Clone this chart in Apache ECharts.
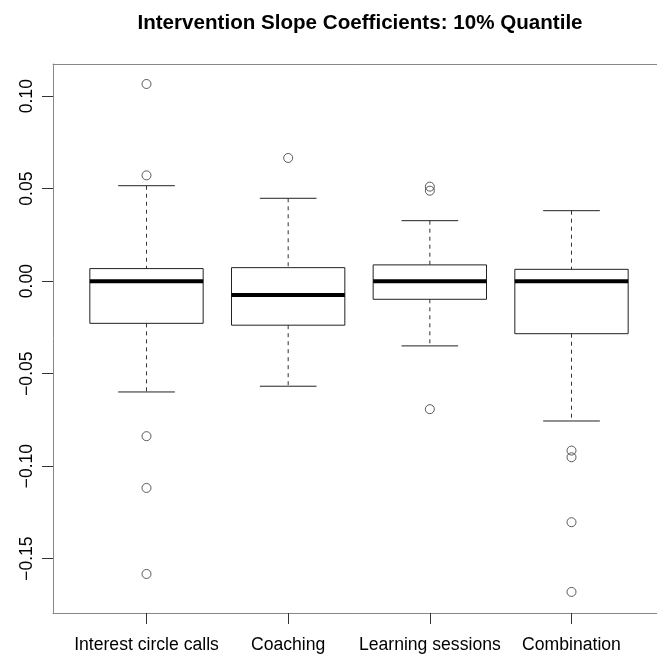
<!DOCTYPE html>
<html>
<head>
<meta charset="utf-8">
<script src="https://cdn.jsdelivr.net/npm/echarts@6/dist/echarts.min.js"></script>
<style>
html,body{margin:0;padding:0;background:#fff;}
#chart{width:657px;height:655px;}
</style>
</head>
<body>
<div id="chart"></div>
<script>
// ---- data ----
const titleText = 'Intervention Slope Coefficients: 10% Quantile';
const categories = ['Interest circle calls', 'Coaching', 'Learning sessions', 'Combination'];
const whiskerLow  = [-0.0599, -0.0568, -0.0350, -0.0756];
const q1          = [-0.0228, -0.0238, -0.0098, -0.0284];
const median      = [ 0.0000, -0.0075,  0.0000,  0.0000];
const q3          = [ 0.0068,  0.0073,  0.0088,  0.0064];
const whiskerHigh = [ 0.0516,  0.0448,  0.0327,  0.0381];
const outliers = [
  [0.1066, 0.0572, -0.0838, -0.1118, -0.1583],
  [0.0666],
  [0.0511, 0.0489, -0.0692],
  [-0.0916, -0.0952, -0.1303, -0.1680]
];
const yTicks = [-0.15, -0.10, -0.05, 0.00, 0.05, 0.10];
const xTicks = [1, 2, 3, 4];

// ---- build ----
const boxData = categories.map((c, i) => [i + 1, whiskerLow[i], q1[i], median[i], q3[i], whiskerHigh[i]]);
const outlierData = [];
outliers.forEach((arr, i) => arr.forEach(v => outlierData.push([i + 1, v])));

const HALF = 0.4;
function renderBox(params, api) {
  const x = api.value(0);
  const lo = api.value(1), a = api.value(2), m = api.value(3), b = api.value(4), hi = api.value(5);
  const pL = api.coord([x - HALF, b]);
  const pR = api.coord([x + HALF, a]);
  const cx = api.coord([x, m])[0];
  const sL = api.coord([x - HALF / 2, 0])[0];
  const sR = api.coord([x + HALF / 2, 0])[0];
  const yLo = api.coord([x, lo])[1], yA = api.coord([x, a])[1], yM = api.coord([x, m])[1];
  const yB = api.coord([x, b])[1], yHi = api.coord([x, hi])[1];
  const solid = {stroke: '#222', lineWidth: 1, fill: null};
  const dashed = {stroke: '#333', lineWidth: 1, lineDash: [4, 4]};
  return {
    type: 'group',
    children: [
      {type: 'line', shape: {x1: cx, y1: yHi, x2: cx, y2: yB}, style: dashed},
      {type: 'line', shape: {x1: cx, y1: yA, x2: cx, y2: yLo}, style: dashed},
      {type: 'line', shape: {x1: sL, y1: yHi, x2: sR, y2: yHi}, style: solid},
      {type: 'line', shape: {x1: sL, y1: yLo, x2: sR, y2: yLo}, style: solid},
      {type: 'rect', shape: {x: pL[0], y: yB, width: pR[0] - pL[0], height: yA - yB}, style: {stroke: '#222', lineWidth: 1, fill: 'rgba(0,0,0,0)'}},
      {type: 'line', shape: {x1: pL[0], y1: yM, x2: pR[0], y2: yM}, style: {stroke: '#000', lineWidth: 4}}
    ]
  };
}

const fam = '"Liberation Sans", Arial, Helvetica, sans-serif';
const frameLine = {show: true, onZero: false, lineStyle: {color: '#888', width: 1}};
const chart = echarts.init(document.getElementById('chart'), null, {renderer: 'canvas'});
chart.setOption({
  animation: false,
  backgroundColor: '#fff',
  title: {
    text: titleText,
    left: 355, top: 8,
    textAlign: 'center',
    textStyle: {fontFamily: fam, fontWeight: 'bold', fontSize: 20.6, color: '#000'}
  },
  grid: {left: 53, top: 64, right: 0, height: 549, show: false},
  xAxis: [{
    type: 'value', min: 0.34, max: 4.6035, position: 'bottom',
    splitLine: {show: false},
    axisLine: frameLine,
    axisTick: {show: true, customValues: xTicks, length: 11, lineStyle: {color: '#333'}},
    axisLabel: {
      customValues: xTicks, margin: 23,
      formatter: v => categories[Math.round(v) - 1] || '',
      fontFamily: fam, fontSize: 17.6, color: '#000'
    }
  }, {
    type: 'value', min: 0.34, max: 4.6035, position: 'top',
    splitLine: {show: false},
    axisLine: frameLine,
    axisTick: {show: false},
    axisLabel: {show: false}
  }],
  yAxis: {
    type: 'value', min: -0.1794, max: 0.1174,
    splitLine: {show: false},
    axisLine: frameLine,
    axisTick: {show: true, customValues: yTicks, length: 11, lineStyle: {color: '#333'}},
    axisLabel: {
      customValues: yTicks, rotate: 90, margin: 17,
      formatter: v => (v < -1e-9 ? '\u2212' : '') + Math.abs(v).toFixed(2),
      fontFamily: fam, fontSize: 17.6, color: '#000'
    }
  },
  series: [
    {type: 'custom', renderItem: renderBox, data: boxData, encode: {x: 0, y: [1, 5]}, clip: false},
    {
      type: 'scatter', data: outlierData, symbol: 'circle', symbolSize: 9,
      itemStyle: {color: 'rgba(0,0,0,0)', borderColor: '#333', borderWidth: 1}
    }
  ]
});
</script>
</body>
</html>
